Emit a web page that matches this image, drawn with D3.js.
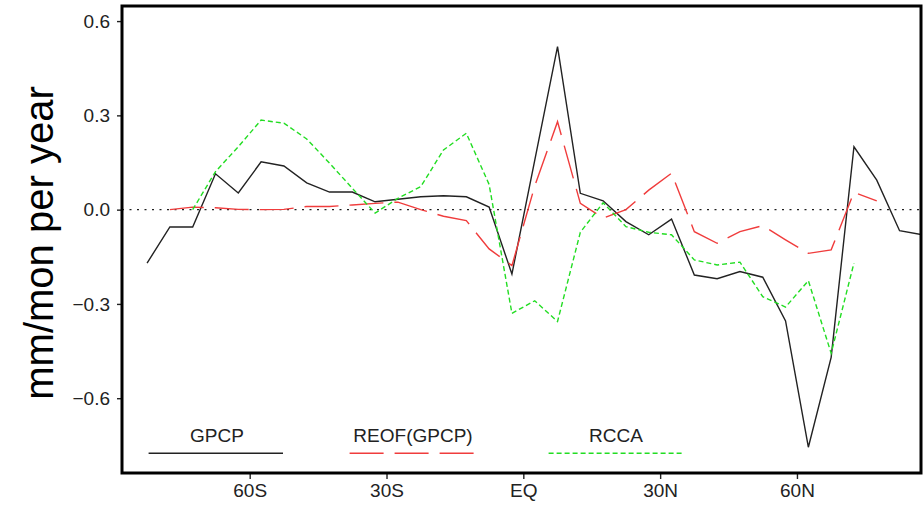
<!DOCTYPE html>
<html>
<head>
<meta charset="utf-8">
<script src="https://cdn.jsdelivr.net/npm/d3@7"></script>
<style>
  body { margin: 0; background: #fff; }
  svg { display: block; }
</style>
</head>
<body>
<svg id="chart"></svg>
<script>
// latitude of each value (deg, south negative)
const latGPCP = [-82.5, -77.5, -72.5, -67.5, -62.5, -57.5, -52.5, -47.5, -42.5, -37.5, -32.5, -27.5, -22.5, -17.5, -12.5, -7.5, -2.5,
                 2.5, 7.5, 12.5, 17.5, 22.5, 27.5, 32.5, 37.5, 42.5, 47.5, 52.5, 57.5, 62.5, 67.5, 72.5, 77.5, 82.5, 87.5]
const gpcp = [-0.170, -0.055, -0.055, 0.114, 0.053, 0.152, 0.139, 0.085, 0.056, 0.056, 0.025, 0.033, 0.041, 0.044, 0.041, 0.008, -0.205,
              0.157, 0.519, 0.052, 0.028, -0.038, -0.080, -0.030, -0.208, -0.220, -0.197, -0.215, -0.354, -0.756, -0.470, 0.200, 0.094, -0.067, -0.080]

const latREOF = [-77.5, -72.5, -67.5, -62.5, -57.5, -52.5, -47.5, -42.5, -37.5, -32.5, -27.5, -22.5, -17.5, -12.5, -7.5, -2.5,
                 2.5, 7.5, 12.5, 17.5, 22.5, 27.5, 32.5, 37.5, 42.5, 47.5, 52.5, 57.5, 62.5, 67.5, 72.5, 77.5]
const reof = [0.000, 0.008, 0.006, 0.001, 0.000, 0.001, 0.010, 0.010, 0.015, 0.020, 0.024, 0.000, -0.021, -0.035, -0.125, -0.178,
              0.075, 0.280, 0.020, -0.027, 0.000, 0.062, 0.116, -0.070, -0.107, -0.070, -0.051, -0.096, -0.139, -0.128, 0.055, 0.028]

const latRCCA = [-72.5, -67.5, -62.5, -57.5, -52.5, -47.5, -42.5, -37.5, -32.5, -27.5, -22.5, -17.5, -12.5, -7.5, -2.5,
                 2.5, 7.5, 12.5, 17.5, 22.5, 27.5, 32.5, 37.5, 42.5, 47.5, 52.5, 57.5, 62.5, 67.5, 72.5]
const rcca = [0.000, 0.121, 0.200, 0.285, 0.275, 0.225, 0.148, 0.068, -0.011, 0.036, 0.073, 0.190, 0.243, 0.080, -0.330,
              -0.290, -0.356, -0.072, 0.022, -0.054, -0.072, -0.080, -0.160, -0.176, -0.167, -0.277, -0.310, -0.226, -0.457, -0.170]

const xTicks = [-60, -30, 0, 30, 60]
const xTickLabels = ["60S", "30S", "EQ", "30N", "60N"]
const yTicks = [-0.6, -0.3, 0, 0.3, 0.6]
const seriesNames = ["GPCP", "REOF(GPCP)", "RCCA"]

var width = 923, height = 506
var plotLeft = 122, plotRight = 921, plotTop = 6, plotBottom = 473
var font = "'Liberation Sans', Arial, sans-serif"

const svg = d3.select("#chart")
    .attr("width", width)
    .attr("height", height)

svg.append("rect").attr("width", width).attr("height", height).attr("fill", "#fff")

const xScale = d3.scaleLinear().domain([-88, 87.2]).range([plotLeft, plotRight])
const yScale = d3.scaleLinear().domain([-0.838, 0.648]).range([plotBottom, plotTop])

svg.append("clipPath").attr("id", "plot")
    .append("rect")
        .attr("x", plotLeft).attr("y", plotTop)
        .attr("width", plotRight - plotLeft).attr("height", plotBottom - plotTop)

// zero line
svg.append("line")
    .attr("x1", plotLeft).attr("x2", plotRight)
    .attr("y1", yScale(0)).attr("y2", yScale(0))
    .attr("stroke", "#222")
    .attr("stroke-width", 1.2)
    .attr("stroke-dasharray", "2,5.5")

const series = [
    {lat: latGPCP, val: gpcp, color: "#222", dash: null, legendX: 217},
    {lat: latREOF, val: reof, color: "#f03c3c", dash: "34,11", legendX: 413},
    {lat: latRCCA, val: rcca, color: "#22dd22", dash: "5,3", legendX: 616}
]

const line = d3.line()
    .x(d => xScale(d[0]))
    .y(d => yScale(d[1]))

const plot = svg.append("g").attr("clip-path", "url(#plot)")
series.forEach(s => {
    plot.append("path")
        .datum(d3.zip(s.lat, s.val))
        .attr("d", line)
        .attr("fill", "none")
        .attr("stroke", s.color)
        .attr("stroke-width", 1.4)
        .attr("stroke-dasharray", s.dash)
})

// legend
var legendLines = [[148.6, 283], [349.6, 477], [548.6, 683]]
series.forEach((s, i) => {
    svg.append("text")
        .attr("x", s.legendX)
        .attr("y", 442)
        .attr("text-anchor", "middle")
        .attr("fill", "#222")
        .style("font", "19px " + font)
        .text(seriesNames[i])
    svg.append("line")
        .attr("x1", legendLines[i][0]).attr("x2", legendLines[i][1])
        .attr("y1", 453.3).attr("y2", 453.3)
        .attr("stroke", s.color)
        .attr("stroke-width", 1.4)
        .attr("stroke-dasharray", s.dash)
})

// axes
const yAxis = d3.axisLeft(yScale)
    .tickValues(yTicks)
    .tickFormat(d3.format(".1f"))
    .tickSize(5)
    .tickPadding(7)
const xAxis = d3.axisBottom(xScale)
    .tickValues(xTicks)
    .tickFormat((d, i) => xTickLabels[i])
    .tickSize(6)
    .tickPadding(5)

svg.append("g")
    .attr("transform", `translate(${plotLeft}, 0)`)
    .call(yAxis)
    .call(g => g.select(".domain").remove())
    .call(g => g.selectAll(".tick line").attr("stroke", "#222").attr("stroke-width", 1.4))
    .call(g => g.selectAll("text").attr("fill", "#222").style("font", "19px " + font))

svg.append("g")
    .attr("transform", `translate(0, ${plotBottom})`)
    .call(xAxis)
    .call(g => g.select(".domain").remove())
    .call(g => g.selectAll(".tick line").attr("stroke", "#222").attr("stroke-width", 1.4))
    .call(g => g.selectAll("text").attr("fill", "#222").style("font", "19px " + font))

// frame
svg.append("rect")
    .attr("x", plotLeft).attr("y", plotTop)
    .attr("width", plotRight - plotLeft).attr("height", plotBottom - plotTop)
    .attr("fill", "none")
    .attr("stroke", "#000")
    .attr("stroke-width", 3)

// y title
svg.append("text")
    .attr("transform", `translate(53, 243) rotate(-90)`)
    .attr("text-anchor", "middle")
    .attr("fill", "#000")
    .style("font", "40px " + font)
    .text("mm/mon per year")
</script>
</body>
</html>
